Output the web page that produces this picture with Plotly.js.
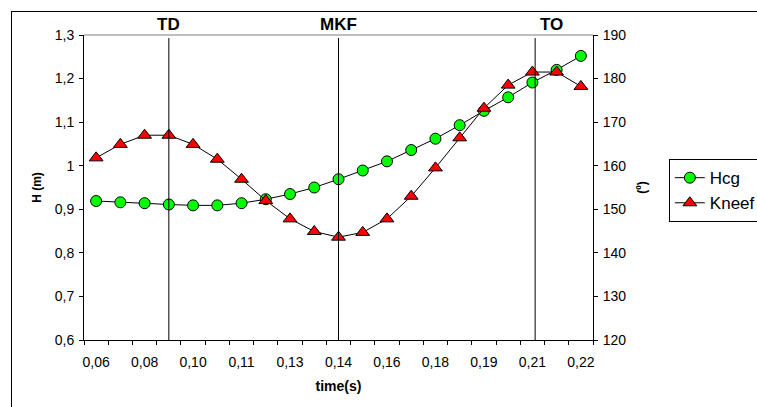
<!DOCTYPE html>
<html>
<head>
<meta charset="utf-8">
<script src="https://cdn.plot.ly/plotly-3.0.1.min.js"></script>
<style>
html,body{margin:0;padding:0;background:#fff;}
#wrap{position:relative;width:757px;height:407px;overflow:hidden;}
#chart{position:absolute;left:0;top:0;width:757px;height:407px;}
#frame{position:absolute;left:11px;top:11px;width:800px;height:450px;border:1.5px solid #000;pointer-events:none;}
</style>
</head>
<body>
<div id="wrap"><div id="chart"></div><div id="frame"></div></div>
<script>
// time of each frame (s)
const time = [0.064, 0.072, 0.080, 0.088, 0.096, 0.104, 0.112, 0.120, 0.128, 0.136, 0.144,
              0.152, 0.160, 0.168, 0.176, 0.184, 0.192, 0.200, 0.208, 0.216, 0.224];
// Height of centre of gravity (m) - left axis
const hcg = [0.919, 0.916, 0.914, 0.911, 0.909, 0.909, 0.914, 0.923, 0.935, 0.950, 0.969,
             0.989, 1.010, 1.036, 1.062, 1.093, 1.126, 1.157, 1.191, 1.220, 1.252];
// Knee flexion angle (deg) - right axis
const knee = [161.8, 164.9, 167.0, 167.0, 164.9, 161.5, 156.9, 152.0, 147.8, 144.9, 143.6,
              144.7, 147.8, 153.0, 159.5, 166.4, 173.2, 178.5, 181.5, 181.5, 178.2];
const seriesNames = ['Hcg', 'Kneef'];
// Event markers
const eventNames = ['TD', 'MKF', 'TO'];
const eventTimes = [0.088, 0.144, 0.2089];

const step = time[1] - time[0];
const xmin = time[0] - step / 2;
const xmax = time[time.length - 1] + step / 2;
const labelVals = time.filter((t, i) => i % 2 === 0);
const labelText = labelVals.map(t => t.toFixed(2).replace('.', ','));

const FONT = 'Arial, "Liberation Sans", sans-serif';

const traces = [
  {
    x: time, y: hcg, name: seriesNames[0], type: 'scatter', mode: 'lines+markers',
    xaxis: 'x', yaxis: 'y',
    line: {color: '#000', width: 1},
    marker: {symbol: 'circle', size: 11, color: '#00ff00', line: {color: '#000', width: 1}}
  },
  {
    x: time, y: knee, name: seriesNames[1], type: 'scatter', mode: 'lines+markers',
    xaxis: 'x', yaxis: 'y2',
    line: {color: '#000', width: 1},
    marker: {symbol: 'triangle-up', size: 12, color: '#ff0000', line: {color: '#000', width: 1}}
  }
];

const shapes = [
  {type: 'line', xref: 'paper', yref: 'paper', x0: 0, x1: 1, y0: 1, y1: 1,
   line: {color: '#808080', width: 1}}
].concat(eventTimes.map(t => ({
  type: 'line', xref: 'x', yref: 'paper', x0: t, x1: t, y0: 0, y1: 0.99,
  line: {color: '#000', width: 1}
})));

const annXShift = [0, 0, 16];
const annotations = eventNames.map((n, i) => ({
  text: '<b>' + n + '</b>', xref: 'x', yref: 'paper', x: eventTimes[i], y: 1,
  xanchor: 'center', yanchor: 'middle', yshift: 11, xshift: annXShift[i],
  showarrow: false, font: {family: FONT, size: 17, color: '#000'}
}));

const layout = {
  width: 757, height: 407,
  margin: {l: 84, r: 164, t: 35, b: 67, autoexpand: false},
  paper_bgcolor: '#fff', plot_bgcolor: '#fff',
  separators: ',.',
  font: {family: FONT, size: 14, color: '#000'},
  showlegend: true,
  legend: {
    x: 1.149, y: 0.593, xanchor: 'left', yanchor: 'top',
    bordercolor: '#000', borderwidth: 1, bgcolor: '#fff',
    font: {family: FONT, size: 17, color: '#000'},
    tracegroupgap: 0
  },
  xaxis: {
    range: [xmin, xmax], showgrid: false, zeroline: false,
    showline: true, linecolor: '#000', linewidth: 1,
    tickmode: 'array', tickvals: labelVals, ticktext: labelText,
    ticks: 'outside', ticklen: 0, tickcolor: '#000', ticklabelstandoff: 9,
    minor: {tickmode: 'linear', tick0: xmin, dtick: step, ticks: 'outside', ticklen: 4, tickcolor: '#000', showgrid: false},
    tickfont: {family: FONT, size: 14},
    title: {text: '<b>time(s)</b>', font: {family: FONT, size: 14}, standoff: 12}
  },
  yaxis: {
    range: [0.6, 1.3], dtick: 0.1, tick0: 0.6, showgrid: false, zeroline: false,
    showline: true, linecolor: '#000', linewidth: 1,
    ticks: 'outside', ticklen: 4, tickcolor: '#000', ticklabelstandoff: 2,
    tickfont: {family: FONT, size: 14},
    title: {text: '<b>H (m)</b>', font: {family: FONT, size: 12}, standoff: 10}
  },
  yaxis2: {
    range: [120, 190], dtick: 10, tick0: 120, overlaying: 'y', side: 'right',
    showgrid: false, zeroline: false,
    showline: true, linecolor: '#000', linewidth: 1,
    ticks: 'outside', ticklen: 4, tickcolor: '#000', ticklabelstandoff: 2,
    tickfont: {family: FONT, size: 14},
    title: {text: '<b>(º)</b>', font: {family: FONT, size: 12}, standoff: 12}
  },
  shapes: shapes,
  annotations: annotations
};

Plotly.newPlot('chart', traces, layout, {displayModeBar: false, staticPlot: true});
</script>
</body>
</html>
